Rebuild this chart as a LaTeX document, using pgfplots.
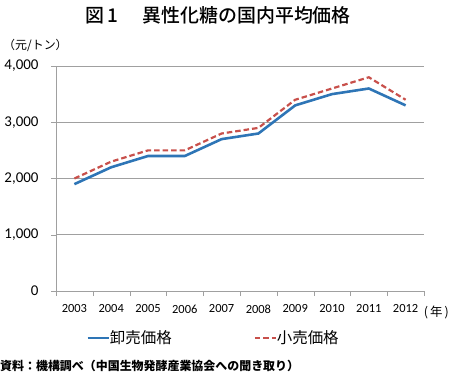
\documentclass[border=0pt]{standalone}
\usepackage{pgfplots}
\pgfplotsset{compat=1.18}
\usepackage{fontspec}
\setmainfont{Noto Sans CJK JP}
\newfontfamily\numfont{Carlito}
\newfontfamily\titlefont{Noto Sans CJK JP Medium}
\definecolor{cblue}{RGB}{46,117,182}
\definecolor{cred}{RGB}{200,80,75}
\definecolor{cgrid}{RGB}{160,160,160}
\begin{document}
\begin{tikzpicture}[x=1bp,y=1bp]
\useasboundingbox (0,0) rectangle (450,377);
\begin{axis}[
  at={(56bp,86bp)}, anchor=south west,
  scale only axis, width=368bp, height=225bp,
  xmin=-0.5, xmax=9.5, ymin=0, ymax=4000,
  axis x line=bottom, axis y line=left,
  axis line style={cgrid, -},
  xtick={0,...,9},
  xticklabels={2003,2004,2005,2006,2007,2008,2009,2010,2011,2012},
  major x tick style={draw=none},
  minor xtick={-0.5,0.5,...,9.5},
  minor x tick style={cgrid},
  minor tick length=5bp,
  ytick={0,1000,2000,3000,4000},
  major y tick style={cgrid},
  major tick length=5bp,
  tick align=outside,
  ymajorgrids, grid style={cgrid, line width=0.8pt},
  /pgf/number format/assume math mode=true,
  /pgf/number format/1000 sep={,},
  yticklabel style={font=\numfont\fontsize{15}{16}\selectfont, xshift=-9bp},
  xticklabel style={font=\numfont\fontsize{12.5}{14}\selectfont, inner sep=0.5bp, yshift=-8bp},
  legend columns=2,
  legend style={draw=none, fill=none, at={(0.428,-0.209)}, anchor=center,
    font=\fontsize{15.5}{17}\selectfont,
    /tikz/every even column/.append style={column sep=80bp},
    /tikz/every odd column/.append style={column sep=-2bp}},
  legend image code/.code={\draw[#1] (0bp,0bp) -- (21bp,0bp);},
]
\addplot[cblue, line width=2.6pt] coordinates {
(0,1900) (1,2200) (2,2400) (3,2400) (4,2700) (5,2800) (6,3300) (7,3500) (8,3600) (9,3300)};
\addlegendentry{卸売価格}
\addplot[cred, line width=2.2pt, dash pattern=on 5.5bp off 3bp] coordinates {
(0,2000) (1,2300) (2,2500) (3,2500) (4,2800) (5,2900) (6,3400) (7,3600) (8,3800) (9,3400)};
\addlegendentry{小売価格}
\end{axis}
\node[font=\titlefont\fontsize{19}{21}\selectfont, inner sep=0pt] at (218,362) {図\,1\hspace{1.3em}異性化糖の国内平均価格};
\node[font=\fontsize{12}{14}\selectfont, anchor=west, inner sep=0pt] at (3,332) {（元/トン）};
\node[font=\fontsize{12.5}{14}\selectfont, anchor=east, inner sep=0pt] at (449,65) {(\,年\,)};
\node[font=\fontsize{12}{14}\selectfont\bfseries, anchor=west, inner sep=0pt] at (0,11) {資料：機構調べ（中国生物発酵産業協会への聞き取り）};
\end{tikzpicture}
\end{document}
